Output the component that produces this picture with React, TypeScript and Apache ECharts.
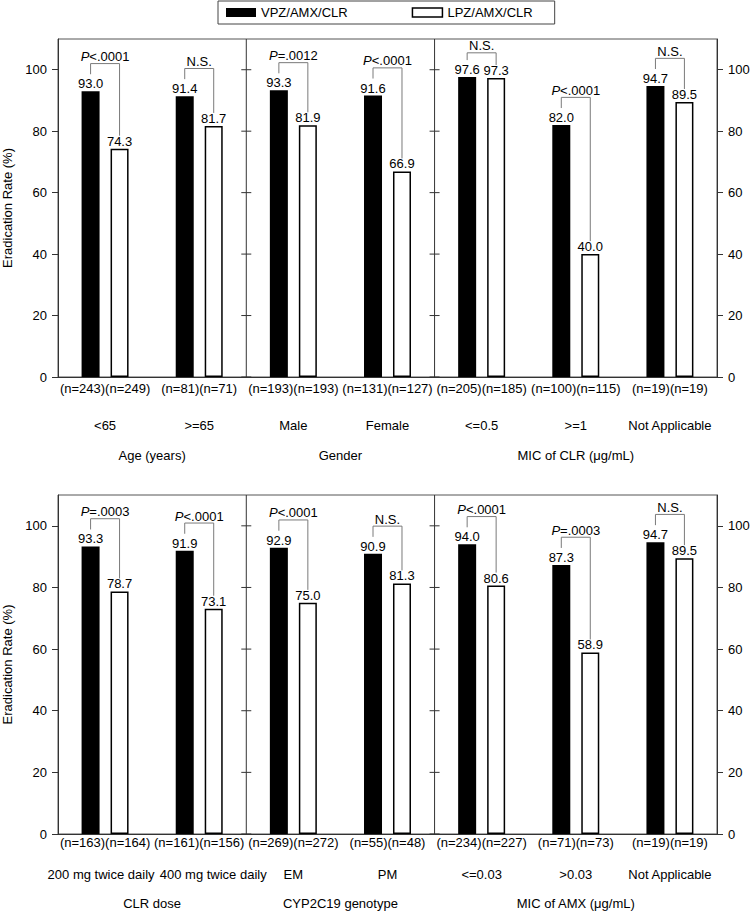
import React, { useEffect, useRef } from 'react';
import * as echarts from 'echarts';

// ---------- data ----------
const seriesNames = ['VPZ/AMX/CLR', 'LPZ/AMX/CLR'];

const topCategories = ['<65', '>=65', 'Male', 'Female', '<=0.5', '>=1', 'Not Applicable'];
const topVpz = [93.0, 91.4, 93.3, 91.6, 97.6, 82.0, 94.7];
const topLpz = [74.3, 81.7, 81.9, 66.9, 97.3, 40.0, 89.5];
const topNVpz = [243, 81, 193, 131, 205, 100, 19];
const topNLpz = [249, 71, 193, 127, 185, 115, 19];
const topP = ['P<.0001', 'N.S.', 'P=.0012', 'P<.0001', 'N.S.', 'P<.0001', 'N.S.'];
const topGroups = [
  { name: 'Age (years)', from: 0, to: 1 },
  { name: 'Gender', from: 2, to: 3 },
  { name: 'MIC of CLR (\u03bcg/mL)', from: 4, to: 6 },
];

const bottomCategories = ['200 mg twice daily', '400 mg twice daily', 'EM', 'PM', '<=0.03', '>0.03', 'Not Applicable'];
const bottomVpz = [93.3, 91.9, 92.9, 90.9, 94.0, 87.3, 94.7];
const bottomLpz = [78.7, 73.1, 75.0, 81.3, 80.6, 58.9, 89.5];
const bottomNVpz = [163, 161, 269, 55, 234, 71, 19];
const bottomNLpz = [164, 156, 272, 48, 227, 73, 19];
const bottomP = ['P=.0003', 'P<.0001', 'P<.0001', 'N.S.', 'P<.0001', 'P=.0003', 'N.S.'];
const bottomGroups = [
  { name: 'CLR dose', from: 0, to: 1 },
  { name: 'CYP2C19 genotype', from: 2, to: 3 },
  { name: 'MIC of AMX (\u03bcg/mL)', from: 4, to: 6 },
];

const yTicks = [0, 20, 40, 60, 80, 100];
const Y_MAX = 110;

// ---------- styling ----------
const FONT = '"Liberation Sans", Arial, Helvetica, sans-serif';
const FS = 13;
const BAR_W = 18;
const BAR_GAP = 0.61;
const HALF = (BAR_W * (1 + BAR_GAP)) / 2;
const FRAME = '#555';
const AXIS = '#333';
const BRACKET = '#7a7a7a';

const panels = [
  {
    cats: topCategories, vpz: topVpz, lpz: topLpz, nV: topNVpz, nL: topNLpz, p: topP, groups: topGroups,
    top: 39, height: 338, margin: 4, catLine: 60, groupOffset: 78,
    catStyle: ['c', 'c', 'c', 'c', 'c', 'c', 'c'],
  },
  {
    cats: bottomCategories, vpz: bottomVpz, lpz: bottomLpz, nV: bottomNVpz, nL: bottomNLpz, p: bottomP, groups: bottomGroups,
    top: 495, height: 339, margin: 1, catLine: 50, groupOffset: 69,
    catStyle: ['cl', 'cr', 'c', 'c', 'c', 'c', 'c'],
  },
];

function buildOption() {
  const grid: any[] = [];
  const xAxis: any[] = [];
  const yAxis: any[] = [];
  const series: any[] = [];

  panels.forEach((pn, gi) => {
    grid.push({
      left: 58, right: 33, top: pn.top, height: pn.height,
      show: true, borderColor: FRAME, borderWidth: 1, backgroundColor: 'transparent',
      outerBoundsMode: 'none', containLabel: false,
    });
    const catLine = pn.catLine;
    xAxis.push({
      type: 'category', gridIndex: gi, data: pn.cats,
      axisLine: { show: true, lineStyle: { color: AXIS, width: 1 } },
      axisTick: { show: false },
      splitLine: { show: false },
      axisLabel: {
        interval: 0, margin: pn.margin, color: '#000', fontFamily: FONT, fontSize: FS,
        formatter: (v: string, idx: number) =>
          `{n|(n=${pn.nV[idx]})(n=${pn.nL[idx]})}\n{${pn.catStyle[idx]}|${v}}`,
        rich: {
          n: { fontSize: FS, fontFamily: FONT, color: '#000', lineHeight: 14 },
          c: { fontSize: FS, fontFamily: FONT, color: '#000', lineHeight: catLine },
          cl: { fontSize: FS, fontFamily: FONT, color: '#000', lineHeight: catLine, padding: [0, 8, 0, 0] },
          cr: { fontSize: FS, fontFamily: FONT, color: '#000', lineHeight: catLine, padding: [0, 0, 0, 28] },
        },
      },
    });
    const yCommon = {
      type: 'value', gridIndex: gi, min: 0, max: Y_MAX, interval: 20,
      axisLine: { show: true, lineStyle: { color: AXIS, width: 1 } },
      axisTick: { show: true, length: 6, customValues: yTicks, lineStyle: { color: AXIS } },
      axisLabel: { customValues: yTicks, margin: 11, color: '#000', fontFamily: FONT, fontSize: FS },
      splitLine: { show: false },
    };
    yAxis.push({
      ...yCommon, position: 'left',
      name: 'Eradication Rate (%)', nameLocation: 'middle', nameGap: 38,
      nameTextStyle: { color: '#000', fontFamily: FONT, fontSize: FS },
    });
    yAxis.push({ ...yCommon, position: 'right' });

    const labelCfg = {
      show: true, position: 'top', distance: 1, color: '#000', fontFamily: FONT, fontSize: FS,
      formatter: (p: any) => Number(p.value).toFixed(1),
    };
    series.push({
      type: 'bar', name: seriesNames[0], xAxisIndex: gi, yAxisIndex: gi * 2,
      data: pn.vpz, barWidth: BAR_W, barGap: `${BAR_GAP * 100}%`,
      itemStyle: { color: '#000' }, label: labelCfg,
    });
    series.push({
      type: 'bar', name: seriesNames[1], xAxisIndex: gi, yAxisIndex: gi * 2,
      data: pn.lpz, barWidth: BAR_W, barGap: `${BAR_GAP * 100}%`,
      itemStyle: { color: '#fff', borderColor: '#000', borderWidth: 1.5 }, label: labelCfg,
    });

    // significance brackets
    series.push({
      type: 'custom', xAxisIndex: gi, yAxisIndex: gi * 2, silent: true, z: 5,
      data: pn.vpz.map((v, i) => [i, v, pn.lpz[i], Math.min(Math.max(v, pn.lpz[i]) + 9, 105.5)]),
      renderItem: (params: any, api: any) => {
        const i = api.value(0);
        const pc = api.coord([i, api.value(3)]);
        const pa = api.coord([i, api.value(1)]);
        const pb = api.coord([i, api.value(2)]);
        const xl = pc[0] - HALF;
        const xr = pc[0] + HALF;
        const yt = pc[1];
        const lab = pn.p[params.dataIndex];
        const text = lab.startsWith('P') ? `{i|P}{n|${lab.slice(1)}}` : `{n|${lab}}`;
        return {
          type: 'group',
          children: [
            {
              type: 'polyline',
              shape: { points: [[xl, Math.max(pa[1] - 17, yt)], [xl, yt], [xr, yt], [xr, Math.max(pb[1] - 13, yt)]] },
              style: { stroke: BRACKET, lineWidth: 1, fill: 'none' },
            },
            {
              type: 'text', x: pc[0], y: yt - 7,
              style: {
                text, align: 'center', verticalAlign: 'middle', fill: '#000',
                fontSize: FS, fontFamily: FONT,
                rich: {
                  i: { fontStyle: 'italic', fontSize: FS, fontFamily: FONT, fill: '#000' },
                  n: { fontSize: FS, fontFamily: FONT, fill: '#000' },
                },
              },
            },
          ],
        };
      },
    });

    // section dividers with ticks on both sides
    series.push({
      type: 'custom', xAxisIndex: gi, yAxisIndex: gi * 2, silent: true, z: 4,
      data: pn.groups.slice(1).map((g) => [g.from]),
      renderItem: (_params: any, api: any) => {
        const i = api.value(0);
        const a = api.coord([i - 1, 0]);
        const b = api.coord([i, 0]);
        const x = (a[0] + b[0]) / 2;
        const yTop = api.coord([i, Y_MAX])[1];
        const children: any[] = [
          { type: 'line', shape: { x1: x, y1: a[1], x2: x, y2: yTop }, style: { stroke: AXIS, lineWidth: 1 } },
        ];
        yTicks.forEach((t) => {
          const y = api.coord([i, t])[1];
          children.push({ type: 'line', shape: { x1: x - 5, y1: y, x2: x + 5, y2: y }, style: { stroke: AXIS, lineWidth: 1 } });
        });
        return { type: 'group', children };
      },
    });

    // group labels under sections
    series.push({
      type: 'custom', xAxisIndex: gi, yAxisIndex: gi * 2, silent: true, z: 4,
      data: pn.groups.map((g) => [g.from, g.to]),
      renderItem: (params: any, api: any) => {
        const a = api.coord([api.value(0), 0]);
        const b = api.coord([api.value(1), 0]);
        return {
          type: 'text', x: (a[0] + b[0]) / 2, y: a[1] + pn.groupOffset,
          style: {
            text: pn.groups[params.dataIndex].name, align: 'center', verticalAlign: 'middle',
            fill: '#000', fontSize: FS, fontFamily: FONT,
          },
        };
      },
    });
  });

  return {
    animation: false,
    backgroundColor: '#fff',
    textStyle: { fontFamily: FONT },
    legend: {
      top: 1, left: 218, itemWidth: 30, itemHeight: 9, itemGap: 64,
      padding: [5, 22, 5, 8], borderColor: '#444', borderWidth: 1,
      icon: 'rect',
      textStyle: { fontSize: FS, color: '#000', fontFamily: FONT },
      data: [
        { name: seriesNames[0], itemStyle: { color: '#000' } },
        { name: seriesNames[1], itemStyle: { color: '#fff', borderColor: '#000', borderWidth: 1.5 } },
      ],
    },
    grid, xAxis, yAxis, series,
  };
}

export default function App() {
  const ref = useRef<HTMLDivElement>(null);
  useEffect(() => {
    if (!ref.current) return;
    const chart = echarts.init(ref.current, null, { renderer: 'svg' });
    chart.setOption(buildOption() as any);
    return () => chart.dispose();
  }, []);
  return (
    <div
      ref={ref}
      style={{ position: 'absolute', left: 0, top: 0, width: 750, height: 914, background: '#fff' }}
    />
  );
}
